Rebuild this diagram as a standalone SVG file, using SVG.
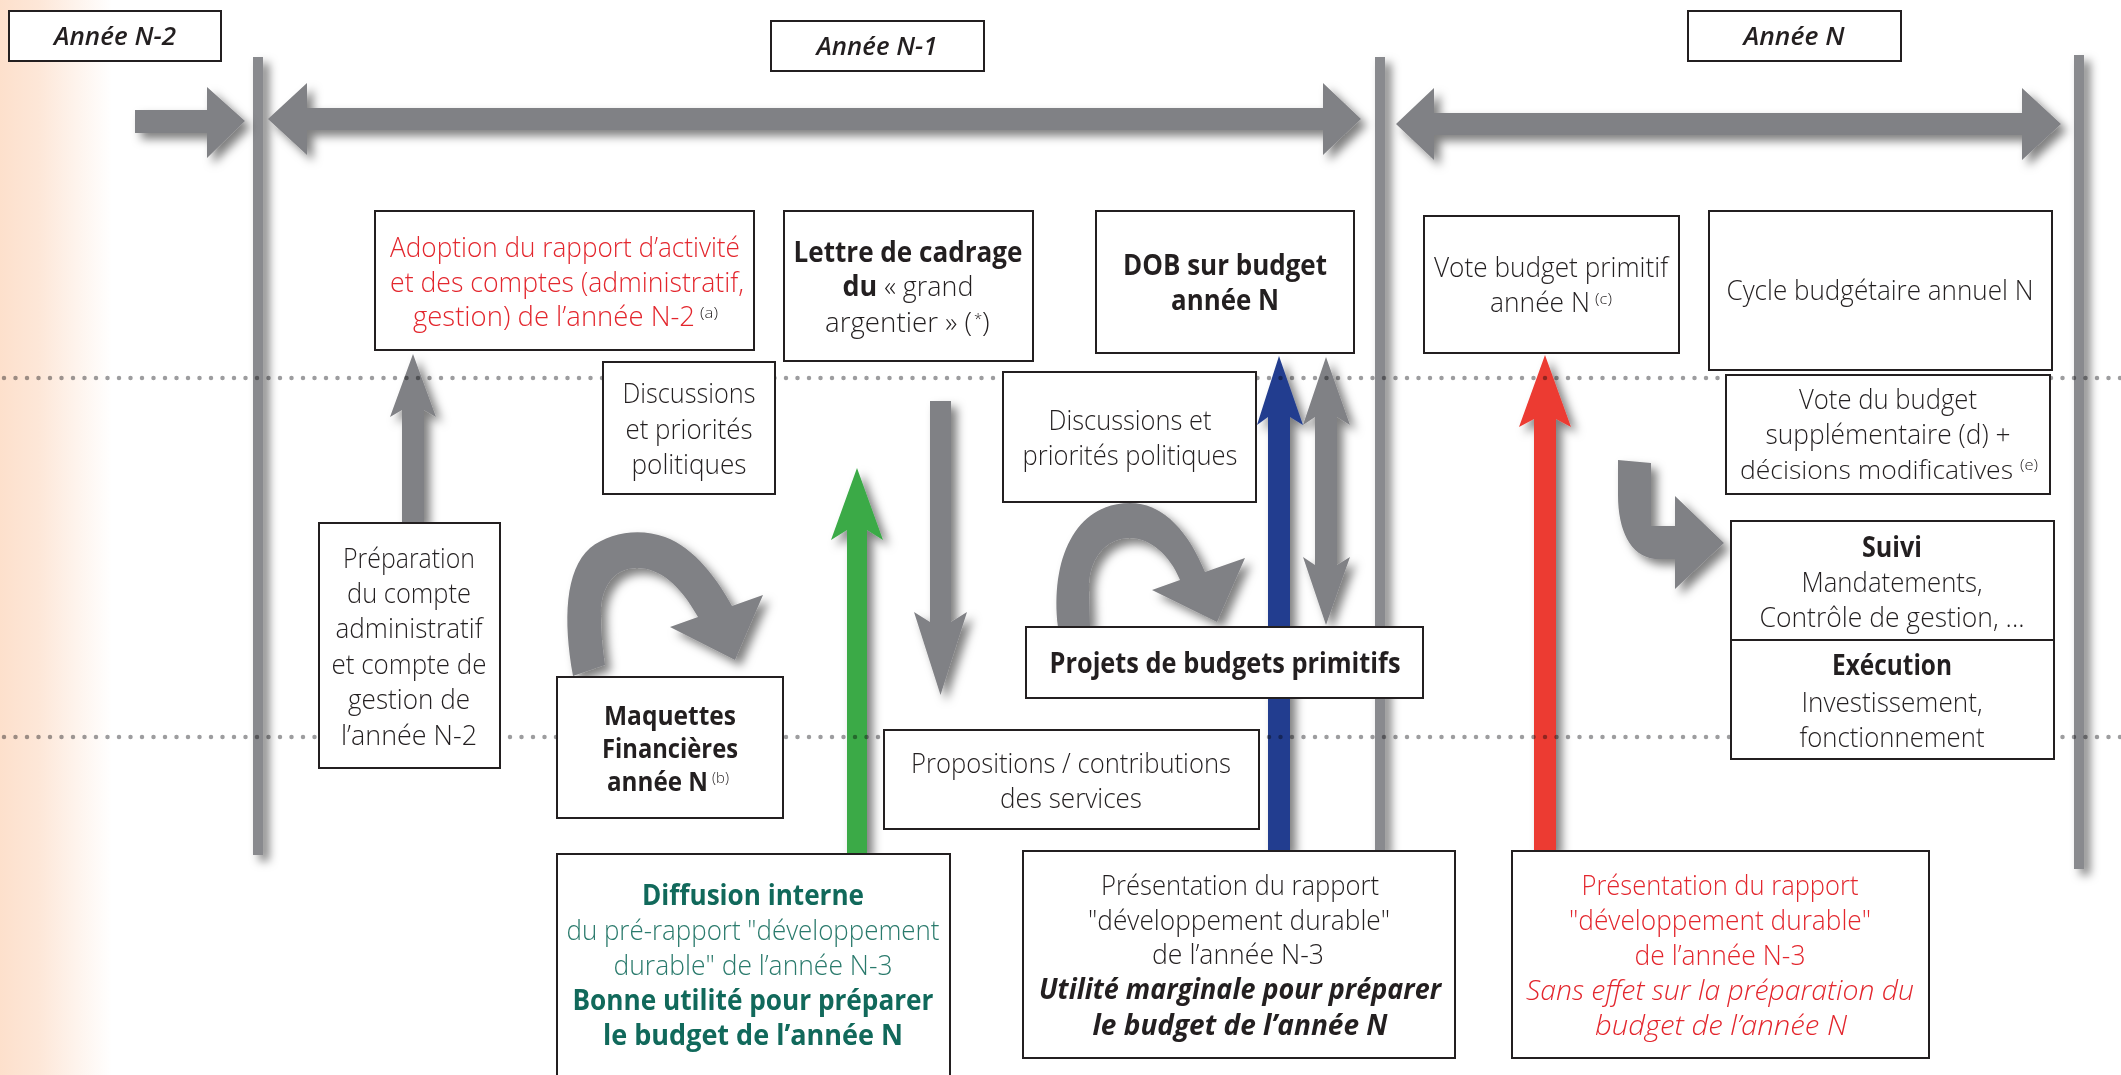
<svg xmlns="http://www.w3.org/2000/svg" width="2121" height="1075" viewBox="0 0 2121 1075">
<defs>
<style>
.t{font-family:"Open Sans","Liberation Sans",sans-serif;font-size:28px;font-weight:300;fill:#231f20;text-anchor:middle}
.s{text-anchor:start}
.b{font-weight:700}
.i{font-style:italic}
.m{font-size:26px}
.n{font-size:25px}
.lbl{font-family:"Open Sans","Liberation Sans",sans-serif;font-size:25px;font-weight:600;font-style:italic;fill:#231f20;text-anchor:middle}
.red{fill:#e3262d}
.teal{fill:#11695b}
.tl{fill:#2a7a6c}
.sup{font-family:"Open Sans","Liberation Sans",sans-serif;font-size:15px;font-weight:300;fill:#231f20;text-anchor:start}
.box{fill:#fff;stroke:#231f20;stroke-width:2}
.arr{fill:#808185}
.vl{fill:#898a8e}
.dots{fill:none;stroke:#9d9d9f;stroke-width:4.5;stroke-linecap:round;stroke-dasharray:0 11.5;mix-blend-mode:multiply}
</style>
<linearGradient id="bg" x1="0" y1="0" x2="1" y2="0">
<stop offset="0" stop-color="#fde0cc"/>
<stop offset="0.35" stop-color="#fde7d8"/>
<stop offset="1" stop-color="#fde8da" stop-opacity="0"/>
</linearGradient>
<filter id="sh" x="-30%" y="-30%" width="160%" height="160%">
<feDropShadow dx="6" dy="6" stdDeviation="5" flood-color="#000" flood-opacity="0.5"/>
</filter>
</defs>

<rect x="0" y="0" width="2121" height="1075" fill="#fff"/>
<rect x="0" y="0" width="112" height="1075" fill="url(#bg)"/>

<g id="timeline" filter="url(#sh)">
<rect class="vl" x="253" y="57" width="10" height="798"/>
<rect class="vl" x="1375" y="57" width="10" height="795"/>
<rect class="vl" x="2074" y="55" width="10" height="814"/>
</g>

<g id="connectors">
<g filter="url(#sh)">
<polygon class="arr" points="135,110 207,110 207,87 245,121 207,158 207,133 135,133"/>
<polygon class="arr" points="268,119 307,83 307,108 1323,108 1323,83 1361,119 1323,155 1323,130 307,130 307,155"/>
<polygon class="arr" points="1396,124 1434,88 1434,113 2022,113 2022,88 2061,124 2022,160 2022,135 1434,135 1434,160"/>
<polygon class="arr" points="413,354 436,417 424,410 424,523 402,523 402,410 390,417"/>
<polygon class="arr" points="930,401 951,401 951,622 967,612 940.5,695 914,612 930,622"/>
<polygon class="arr" points="1326,357 1350,425 1337,417 1337,565 1350,557 1326,625 1303,557 1315,565 1315,417 1303,425"/>
<path class="arr" d="M573,676 C563,620 565,570 590,548 C610,532 640,528 665,537 C695,548 718,580 732,606 L763,595 L735,660 L670,627 L698,617 C680,585 660,568 637,568 C612,568 600,590 601,615 C601,635 603,650 605,665 Z"/>
<path class="arr" d="M1058,627 C1050,560 1075,503 1130,503 C1165,503 1190,535 1205,572 L1245,558 L1217,622 L1152,590 L1180,580 C1170,555 1150,538 1130,538 C1105,538 1088,560 1089,590 L1090,627 Z"/>
<path class="arr" d="M1618,460 L1651,463 L1651,526 L1675,526 L1675,496 L1724,543 L1675,589 L1675,559 L1655,559 C1630,556 1618,530 1618,495 Z"/>
<polygon fill="#3aaa47" points="857,468 883,540 867,530 867,854 847,854 847,530 831,540"/>
<polygon fill="#233e8f" points="1279,356 1303,425 1290,417 1290,851 1268,851 1268,417 1257,425"/>
<polygon fill="#ec3a32" points="1545,355 1571,427 1556,419 1556,851 1534,851 1534,419 1519,427"/>
</g>
</g>

<g id="separators">
<line class="dots" x1="4" y1="378" x2="2121" y2="378"/>
<line class="dots" x1="4" y1="737" x2="2121" y2="737"/>
</g>

<g id="annee-n2"><rect class="box" x="9" y="11" width="212" height="50"/>
<text class="lbl" x="115" y="45" textLength="122" lengthAdjust="spacingAndGlyphs">Année N-2</text></g>
<g id="annee-n1"><rect class="box" x="771" y="21" width="213" height="50"/>
<text class="lbl" x="877" y="55" textLength="121" lengthAdjust="spacingAndGlyphs">Année N-1</text></g>
<g id="annee-n"><rect class="box" x="1688" y="11" width="213" height="50"/>
<text class="lbl" x="1794" y="45" textLength="101" lengthAdjust="spacingAndGlyphs">Année N</text></g>

<g id="adoption"><rect class="box" x="375" y="211" width="379" height="139"/>
<text class="t red" x="565" y="257" textLength="350" lengthAdjust="spacingAndGlyphs">Adoption du rapport d’activité</text>
<text class="t red" x="567" y="292" textLength="354" lengthAdjust="spacingAndGlyphs">et des comptes (administratif,</text>
<text class="t s red" x="413" y="326" textLength="282" lengthAdjust="spacingAndGlyphs">gestion) de l’année N-2</text>
<text class="sup red" x="700" y="318" textLength="18" lengthAdjust="spacingAndGlyphs">(a)</text></g>

<g id="lettre"><rect class="box" x="784" y="211" width="249" height="150"/>
<text class="t b" x="908" y="262" textLength="229" lengthAdjust="spacingAndGlyphs">Lettre de cadrage</text>
<text class="t" x="908" y="296" textLength="131" lengthAdjust="spacingAndGlyphs"><tspan class="b">du</tspan> « grand</text>
<text class="t s" x="825" y="332" textLength="147" lengthAdjust="spacingAndGlyphs">argentier » (</text>
<text class="sup" x="974" y="324">*</text>
<text class="t s" x="982" y="332">)</text></g>

<g id="dob"><rect class="box" x="1096" y="211" width="258" height="142"/>
<text class="t b" x="1225" y="275" textLength="204" lengthAdjust="spacingAndGlyphs">DOB sur budget</text>
<text class="t b" x="1225" y="310" textLength="108" lengthAdjust="spacingAndGlyphs">année N</text></g>

<g id="vote-bp"><rect class="box" x="1424" y="216" width="255" height="137"/>
<text class="t" x="1551" y="277" textLength="234" lengthAdjust="spacingAndGlyphs">Vote budget primitif</text>
<text class="t s" x="1490" y="312" textLength="100" lengthAdjust="spacingAndGlyphs">année N</text>
<text class="sup" x="1595" y="304" textLength="17" lengthAdjust="spacingAndGlyphs">(c)</text></g>

<g id="cycle"><rect class="box" x="1709" y="211" width="343" height="159"/>
<text class="t" x="1880" y="300" textLength="307" lengthAdjust="spacingAndGlyphs">Cycle budgétaire annuel N</text></g>

<g id="discussions-1"><rect class="box" x="603" y="362" width="172" height="132"/>
<text class="t" x="689" y="403" textLength="133" lengthAdjust="spacingAndGlyphs">Discussions</text>
<text class="t" x="689" y="439" textLength="127" lengthAdjust="spacingAndGlyphs">et priorités</text>
<text class="t" x="689" y="474" textLength="115" lengthAdjust="spacingAndGlyphs">politiques</text></g>

<g id="discussions-2"><rect class="box" x="1003" y="372" width="253" height="130"/>
<text class="t" x="1130" y="430" textLength="163" lengthAdjust="spacingAndGlyphs">Discussions et</text>
<text class="t" x="1130" y="465" textLength="215" lengthAdjust="spacingAndGlyphs">priorités politiques</text></g>

<g id="vote-bs"><rect class="box" x="1726" y="375" width="324" height="119"/>
<text class="t" x="1888" y="409" textLength="178" lengthAdjust="spacingAndGlyphs">Vote du budget</text>
<text class="t" x="1888" y="444" textLength="245" lengthAdjust="spacingAndGlyphs">supplémentaire (d) +</text>
<text class="t s n" x="1740" y="479" textLength="273" lengthAdjust="spacingAndGlyphs">décisions modificatives</text>
<text class="sup" x="2020" y="470" textLength="18" lengthAdjust="spacingAndGlyphs">(e)</text></g>

<g id="preparation"><rect class="box" x="319" y="523" width="181" height="245"/>
<text class="t" x="409" y="568" textLength="132" lengthAdjust="spacingAndGlyphs">Préparation</text>
<text class="t" x="409" y="603" textLength="124" lengthAdjust="spacingAndGlyphs">du compte</text>
<text class="t" x="409" y="638" textLength="147" lengthAdjust="spacingAndGlyphs">administratif</text>
<text class="t" x="409" y="674" textLength="155" lengthAdjust="spacingAndGlyphs">et compte de</text>
<text class="t" x="409" y="709" textLength="122" lengthAdjust="spacingAndGlyphs">gestion de</text>
<text class="t" x="409" y="745" textLength="136" lengthAdjust="spacingAndGlyphs">l’année N-2</text></g>

<g id="maquettes"><rect class="box" x="557" y="677" width="226" height="141"/>
<text class="t b m" x="670" y="725" textLength="132" lengthAdjust="spacingAndGlyphs">Maquettes</text>
<text class="t b m" x="670" y="758" textLength="136" lengthAdjust="spacingAndGlyphs">Financières</text>
<text class="t s b m" x="607" y="791" textLength="101" lengthAdjust="spacingAndGlyphs">année N</text>
<text class="sup b" x="712" y="783" textLength="17" lengthAdjust="spacingAndGlyphs">(b)</text></g>

<g id="projets"><rect class="box" x="1026" y="627" width="397" height="71"/>
<text class="t b" x="1225" y="673" textLength="351" lengthAdjust="spacingAndGlyphs">Projets de budgets primitifs</text></g>

<g id="propositions"><rect class="box" x="884" y="730" width="375" height="99"/>
<text class="t" x="1071" y="773" textLength="320" lengthAdjust="spacingAndGlyphs">Propositions / contributions</text>
<text class="t" x="1071" y="808" textLength="142" lengthAdjust="spacingAndGlyphs">des services</text></g>

<g id="suivi"><rect class="box" x="1731" y="521" width="323" height="119"/>
<text class="t b" x="1892" y="557" textLength="60" lengthAdjust="spacingAndGlyphs">Suivi</text>
<text class="t" x="1892" y="592" textLength="181" lengthAdjust="spacingAndGlyphs">Mandatements,</text>
<text class="t" x="1892" y="627" textLength="265" lengthAdjust="spacingAndGlyphs">Contrôle de gestion, ...</text></g>

<g id="execution"><rect class="box" x="1731" y="640" width="323" height="119"/>
<text class="t b" x="1892" y="675" textLength="120" lengthAdjust="spacingAndGlyphs">Exécution</text>
<text class="t" x="1892" y="712" textLength="181" lengthAdjust="spacingAndGlyphs">Investissement,</text>
<text class="t" x="1892" y="747" textLength="185" lengthAdjust="spacingAndGlyphs">fonctionnement</text></g>

<g id="diffusion"><rect class="box" x="557" y="854" width="393" height="240"/>
<text class="t b teal" x="753" y="905" textLength="222" lengthAdjust="spacingAndGlyphs">Diffusion interne</text>
<text class="t tl" x="753" y="940" textLength="373" lengthAdjust="spacingAndGlyphs">du pré-rapport "développement</text>
<text class="t tl" x="753" y="975" textLength="279" lengthAdjust="spacingAndGlyphs">durable" de l’année N-3</text>
<text class="t b teal" x="753" y="1010" textLength="361" lengthAdjust="spacingAndGlyphs">Bonne utilité pour préparer</text>
<text class="t b teal" x="753" y="1045" textLength="300" lengthAdjust="spacingAndGlyphs">le budget de l’année N</text></g>

<g id="presentation-1"><rect class="box" x="1023" y="851" width="432" height="207"/>
<text class="t" x="1240" y="895" textLength="278" lengthAdjust="spacingAndGlyphs">Présentation du rapport</text>
<text class="t" x="1239" y="930" textLength="302" lengthAdjust="spacingAndGlyphs">"développement durable"</text>
<text class="t" x="1238" y="964" textLength="172" lengthAdjust="spacingAndGlyphs">de l’année N-3</text>
<text class="t b i" x="1240" y="999" textLength="402" lengthAdjust="spacingAndGlyphs">Utilité marginale pour préparer</text>
<text class="t b i" x="1240" y="1035" textLength="295" lengthAdjust="spacingAndGlyphs">le budget de l’année N</text></g>

<g id="presentation-2"><rect class="box" x="1512" y="851" width="417" height="207"/>
<text class="t red" x="1720" y="895" textLength="277" lengthAdjust="spacingAndGlyphs">Présentation du rapport</text>
<text class="t red" x="1720" y="930" textLength="302" lengthAdjust="spacingAndGlyphs">"développement durable"</text>
<text class="t red" x="1720" y="965" textLength="171" lengthAdjust="spacingAndGlyphs">de l’année N-3</text>
<text class="t i red" x="1720" y="1000" textLength="388" lengthAdjust="spacingAndGlyphs">Sans effet sur la préparation du</text>
<text class="t i red" x="1721" y="1035" textLength="252" lengthAdjust="spacingAndGlyphs">budget de l’année N</text></g>
</svg>
